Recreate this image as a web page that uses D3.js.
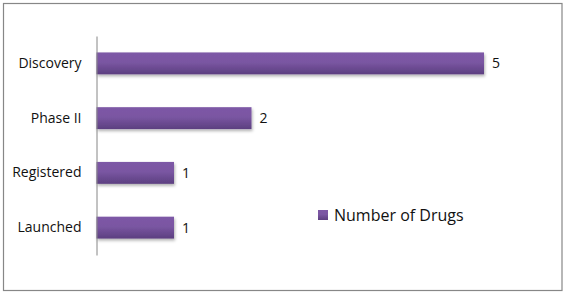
<!DOCTYPE html>
<html><head><meta charset="utf-8">
<script src="https://cdn.jsdelivr.net/npm/d3@7"></script>
<style>html,body{margin:0;padding:0;background:#fff;}svg{display:block;}</style>
</head><body>
<script>
const categories = ["Discovery", "Phase II", "Registered", "Launched"];
const values = [5, 2, 1, 1];
const seriesName = "Number of Drugs";

const W = 570, H = 295;
const svg = d3.select("body").append("svg").attr("width", W).attr("height", H);

const defs = svg.append("defs");
const grad = defs.append("linearGradient").attr("id", "barGrad").attr("x1", 0).attr("y1", 0).attr("x2", 0).attr("y2", 1);
grad.append("stop").attr("offset", "0%").attr("stop-color", "#7d58a6");
grad.append("stop").attr("offset", "45%").attr("stop-color", "#7a56a2");
grad.append("stop").attr("offset", "100%").attr("stop-color", "#5c3f80");
const f = defs.append("filter").attr("id", "shadow").attr("x", "-5%").attr("y", "-20%").attr("width", "115%").attr("height", "160%");
f.append("feDropShadow").attr("dx", 1).attr("dy", 2).attr("stdDeviation", 1.5).attr("flood-color", "#000").attr("flood-opacity", 0.3);

// outer border
svg.append("rect").attr("x", 3.5).attr("y", 3.5).attr("width", 558.5).attr("height", 287)
  .attr("fill", "#fff").attr("stroke", "#878787").attr("stroke-width", 1.2);

const x = d3.scaleLinear().domain([0, 5]).range([96.5, 484]);
const y = d3.scaleBand().domain(categories).range([36, 255]).paddingInner(0.6).paddingOuter(0.3);

// bars
svg.append("g").selectAll("rect").data(values).join("rect")
  .attr("x", x(0)).attr("y", (d, i) => y(categories[i]))
  .attr("width", d => x(d) - x(0)).attr("height", y.bandwidth())
  .attr("fill", "url(#barGrad)").attr("filter", "url(#shadow)");

// axis
const yAxis = d3.axisLeft(y).tickSize(0).tickPadding(15);
const ag = svg.append("g").attr("transform", `translate(${x(0)},0)`).call(yAxis);
ag.select(".domain").attr("stroke", "#868686").attr("stroke-width", 1);
ag.selectAll("text").attr("font-family", "'Open Sans', sans-serif").attr("font-size", 14).attr("fill", "#111");

// value labels
svg.append("g").selectAll("text").data(values).join("text")
  .attr("x", d => x(d) + 8).attr("y", (d, i) => y(categories[i]) + y.bandwidth() / 2)
  .attr("dy", "0.35em").attr("font-family", "'Open Sans', sans-serif").attr("font-size", 14).attr("fill", "#111")
  .text(d => d);

// legend
const lg = svg.append("g").attr("transform", "translate(318,210)");
lg.append("rect").attr("width", 10).attr("height", 10).attr("fill", "url(#barGrad)");
lg.append("text").attr("x", 16).attr("y", 5).attr("dy", "0.35em")
  .attr("font-family", "'Open Sans', sans-serif").attr("font-size", 16).attr("fill", "#111").text(seriesName);
</script>
</body></html>
